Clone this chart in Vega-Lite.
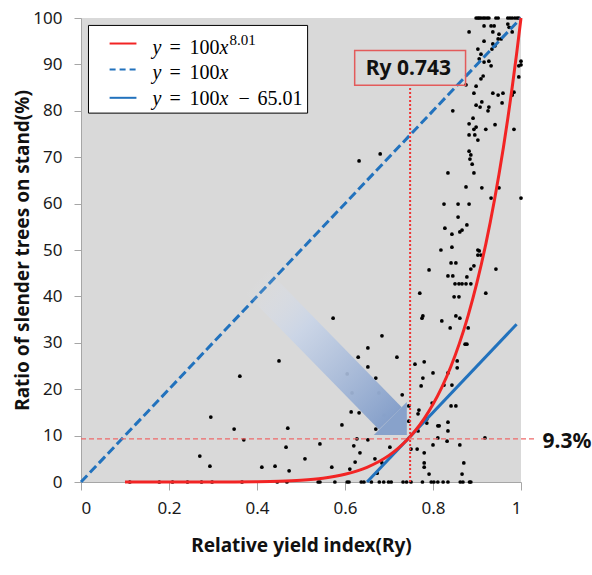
{
  "$schema": "https://vega.github.io/schema/vega-lite/v6.json",
  "width": 440,
  "height": 464,
  "autosize": {"type": "none"},
  "padding": {"left": 81, "top": 18, "right": 71, "bottom": 93},
  "background": "white",
  "config": {
    "view": {"fill": "#D9D9D9", "stroke": null},
    "font": "Noto Sans",
    "axis": {
      "domainColor": "#A6A6A6",
      "tickColor": "#A6A6A6",
      "grid": false,
      "labelFont": "Noto Sans",
      "labelFontSize": 17,
      "labelColor": "#1a1a1a",
      "titleFont": "Noto Sans",
      "titleFontSize": 19,
      "titleFontWeight": "bold",
      "titleColor": "#111111"
    }
  },
  "encoding": {
    "x": {
      "field": "x",
      "type": "quantitative",
      "scale": {"domain": [0, 1], "nice": false, "zero": false, "clamp": false},
      "axis": {
        "values": [0, 0.2, 0.4, 0.6, 0.8, 1],
        "format": ".1~f",
        "tickSize": 8,
        "labelPadding": 10,
        "title": "Relative yield index(Ry)",
        "titlePadding": 20
      }
    },
    "y": {
      "field": "y",
      "type": "quantitative",
      "scale": {"domain": [0, 100], "nice": false, "clamp": false},
      "axis": {
        "values": [0, 10, 20, 30, 40, 50, 60, 70, 80, 90, 100],
        "tickSize": 7,
        "labelPadding": 12,
        "title": "Ratio of slender trees on stand(%)",
        "titlePadding": 0
      }
    }
  },
  "layer": [
    {
      "data": {"values": [
        {"x":0.111,"y":0},{"x":0.178,"y":0},{"x":0.208,"y":0},{"x":0.242,"y":0},{"x":0.274,"y":0},{"x":0.298,"y":0},{"x":0.366,"y":0},{"x":0.446,"y":0},{"x":0.468,"y":0},{"x":0.539,"y":0},{"x":0.543,"y":0},{"x":0.577,"y":0},{"x":0.605,"y":0},{"x":0.609,"y":0},{"x":0.637,"y":0},{"x":0.643,"y":0},{"x":0.66,"y":0},{"x":0.678,"y":0},{"x":0.688,"y":0},{"x":0.699,"y":0},{"x":0.705,"y":0},{"x":0.732,"y":0},{"x":0.74,"y":0},{"x":0.75,"y":0},{"x":0.776,"y":0},{"x":0.796,"y":0},{"x":0.802,"y":0},{"x":0.811,"y":0},{"x":0.823,"y":0},{"x":0.834,"y":0},{"x":0.862,"y":0},{"x":0.868,"y":0},{"x":0.883,"y":0},{"x":0.886,"y":0},
        {"x":0.27,"y":5.6},{"x":0.293,"y":3.4},{"x":0.295,"y":14.0},{"x":0.348,"y":11.4},{"x":0.361,"y":22.8},{"x":0.37,"y":9.1},{"x":0.411,"y":3.2},{"x":0.441,"y":3.4},{"x":0.45,"y":26.1},{"x":0.466,"y":7.5},{"x":0.473,"y":2.4},{"x":0.47,"y":11.6},{"x":0.509,"y":5.0},{"x":0.543,"y":8.2},{"x":0.57,"y":3.2},{"x":0.573,"y":35.3},{"x":0.593,"y":12.3},{"x":0.605,"y":23.3},{"x":0.611,"y":2.8},{"x":0.616,"y":19.2},{"x":0.614,"y":15.1},{"x":0.62,"y":7.8},{"x":0.623,"y":4.3},{"x":0.627,"y":9.3},{"x":0.63,"y":26.9},{"x":0.632,"y":14.9},{"x":0.634,"y":6.3},{"x":0.652,"y":9.1},{"x":0.652,"y":28.9},{"x":0.652,"y":24.8},{"x":0.668,"y":5.0},{"x":0.67,"y":11.4},{"x":0.67,"y":22.4},{"x":0.673,"y":1.9},{"x":0.677,"y":19.2},{"x":0.684,"y":4.1},{"x":0.684,"y":31.5},{"x":0.689,"y":14.4},{"x":0.702,"y":7.5},{"x":0.711,"y":13.1},{"x":0.718,"y":26.9},{"x":0.73,"y":18.8},{"x":0.734,"y":12.5},{"x":0.745,"y":16.4},{"x":0.745,"y":13.1},{"x":0.75,"y":7.1},{"x":0.759,"y":25.4},{"x":0.764,"y":7.1},{"x":0.766,"y":14.7},{"x":0.766,"y":11.0},{"x":0.768,"y":15.5},{"x":0.773,"y":20.7},{"x":0.777,"y":22.4},{"x":0.78,"y":25.9},{"x":0.78,"y":6.3},{"x":0.78,"y":4.1},{"x":0.78,"y":3.2},{"x":0.786,"y":13.6},{"x":0.786,"y":12.7},{"x":0.791,"y":1.7},{"x":0.798,"y":17.0},{"x":0.8,"y":23.5},{"x":0.8,"y":8.0},{"x":0.811,"y":12.1},{"x":0.814,"y":12.1},{"x":0.811,"y":9.5},{"x":0.825,"y":20.9},{"x":0.832,"y":8.8},{"x":0.834,"y":23.5},{"x":0.834,"y":12.9},{"x":0.834,"y":11.0},{"x":0.841,"y":16.4},{"x":0.843,"y":20.9},{"x":0.852,"y":16.4},{"x":0.855,"y":26.1},{"x":0.855,"y":24.6},{"x":0.861,"y":8.0},{"x":0.866,"y":1.7},{"x":0.87,"y":4.1},{"x":0.873,"y":29.7},{"x":0.877,"y":29.7},{"x":0.918,"y":9.5},{"x":0.632,"y":69.2},{"x":0.68,"y":70.7},
        {"x":0.77,"y":40.7},{"x":0.775,"y":35.3},{"x":0.777,"y":35.8},{"x":0.791,"y":45.7},{"x":0.818,"y":50.0},{"x":0.82,"y":34.7},{"x":0.825,"y":59.9},{"x":0.827,"y":54.7},{"x":0.834,"y":44.4},{"x":0.834,"y":66.6},{"x":0.839,"y":33.2},{"x":0.841,"y":47.2},{"x":0.843,"y":53.4},{"x":0.843,"y":50.6},{"x":0.845,"y":44.4},{"x":0.845,"y":80.0},{"x":0.848,"y":39.9},{"x":0.85,"y":42.7},{"x":0.852,"y":47.2},{"x":0.852,"y":35.8},{"x":0.857,"y":59.9},{"x":0.857,"y":57.1},{"x":0.859,"y":42.7},{"x":0.859,"y":39.9},{"x":0.861,"y":35.3},{"x":0.861,"y":53.9},{"x":0.866,"y":54.3},{"x":0.866,"y":42.7},{"x":0.875,"y":63.6},{"x":0.875,"y":42.7},{"x":0.875,"y":85.6},{"x":0.877,"y":55.4},{"x":0.877,"y":44.2},{"x":0.88,"y":33.2},{"x":0.882,"y":59.9},{"x":0.882,"y":77.2},{"x":0.882,"y":74.8},{"x":0.882,"y":71.3},{"x":0.884,"y":69.6},{"x":0.886,"y":70.5},{"x":0.889,"y":68.5},{"x":0.886,"y":42.7},{"x":0.886,"y":45.9},{"x":0.891,"y":78.4},{"x":0.893,"y":66.6},{"x":0.893,"y":83.8},{"x":0.893,"y":46.6},{"x":0.893,"y":76.0},{"x":0.895,"y":74.8},{"x":0.898,"y":81.2},{"x":0.898,"y":76.5},{"x":0.898,"y":85.3},{"x":0.902,"y":73.7},{"x":0.902,"y":50.0},{"x":0.902,"y":48.9},{"x":0.902,"y":93.3},{"x":0.905,"y":49.8},{"x":0.905,"y":91.2},{"x":0.907,"y":80.8},{"x":0.909,"y":48.9},{"x":0.909,"y":92.2},{"x":0.909,"y":86.9},{"x":0.911,"y":81.9},{"x":0.911,"y":63.4},{"x":0.914,"y":87.5},{"x":0.916,"y":90.5},{"x":0.916,"y":95.0},{"x":0.916,"y":98.3},{"x":0.92,"y":40.7},{"x":0.92,"y":76.0},{"x":0.925,"y":80.0},{"x":0.927,"y":80.8},{"x":0.927,"y":90.7},{"x":0.932,"y":61.2},{"x":0.932,"y":89.7},{"x":0.932,"y":98.3},{"x":0.936,"y":83.8},{"x":0.936,"y":97.0},{"x":0.939,"y":98.3},{"x":0.936,"y":94.4},{"x":0.941,"y":77.0},{"x":0.943,"y":45.9},{"x":0.941,"y":94.0},{"x":0.948,"y":83.4},{"x":0.948,"y":95.5},{"x":0.95,"y":96.5},{"x":0.95,"y":63.4},{"x":0.955,"y":95.5},{"x":0.959,"y":83.8},{"x":0.957,"y":81.7},{"x":0.97,"y":98.7},{"x":0.973,"y":98.0},{"x":0.98,"y":97.0},{"x":0.98,"y":83.4},{"x":0.984,"y":84.0},{"x":0.984,"y":76.0},{"x":0.995,"y":89.7},{"x":0.995,"y":87.3},{"x":1.0,"y":61.2},{"x":1.0,"y":90.7},{"x":1.0,"y":89.9},{"x":0.882,"y":97.0},{"x":0.934,"y":93.3},
        {"x":0.898,"y":100},{"x":0.902,"y":100},{"x":0.905,"y":100},{"x":0.909,"y":100},{"x":0.914,"y":100},{"x":0.918,"y":100},{"x":0.923,"y":100},{"x":0.927,"y":100},{"x":0.943,"y":100},{"x":0.948,"y":100},{"x":0.97,"y":100},{"x":0.975,"y":100},{"x":0.98,"y":100},{"x":0.986,"y":100},{"x":0.991,"y":100},{"x":0.995,"y":100}
      ]},
      "mark": {"type": "circle", "size": 14, "color": "#000000", "opacity": 1}
    },
    {
      "data": {"values": [{"x":0,"y":0},{"x":1,"y":100}]},
      "mark": {"type": "line", "color": "#2272BD", "strokeWidth": 3, "strokeDash": [9, 4]}
    },
    {
      "data": {"values": [{"x":0.6501,"y":0},{"x":0.99,"y":33.99}]},
      "mark": {"type": "line", "color": "#2272BD", "strokeWidth": 3}
    },
    {
      "data": {"values": [
        {"x":0.1,"y":0},{"x":0.2,"y":0.0003},{"x":0.3,"y":0.0066},{"x":0.35,"y":0.0225},{"x":0.4,"y":0.0655},{"x":0.45,"y":0.167},{"x":0.5,"y":0.39},{"x":0.55,"y":0.83},{"x":0.6,"y":1.67},{"x":0.65,"y":3.17},{"x":0.7,"y":5.74},{"x":0.72,"y":7.2},{"x":0.743,"y":9.26},{"x":0.76,"y":11.1},{"x":0.78,"y":13.67},{"x":0.8,"y":16.74},{"x":0.82,"y":20.4},{"x":0.84,"y":24.74},{"x":0.86,"y":29.88},{"x":0.88,"y":35.92},{"x":0.9,"y":43.0},{"x":0.91,"y":46.98},{"x":0.92,"y":51.28},{"x":0.93,"y":55.92},{"x":0.94,"y":60.92},{"x":0.95,"y":66.31},{"x":0.96,"y":72.11},{"x":0.97,"y":78.35},{"x":0.98,"y":85.06},{"x":0.99,"y":92.26},{"x":1.0,"y":100}
      ]},
      "mark": {"type": "line", "color": "#F22424", "strokeWidth": 3, "interpolate": "monotone"}
    },
    {
      "data": {"values": [{"x":0,"x2":1.031,"y":9.3}]},
      "mark": {"type": "rule", "color": "#EE6A6A", "strokeWidth": 1.2, "strokeDash": [5, 3]},
      "encoding": {"x2": {"field": "x2"}}
    },
    {
      "data": {"values": [{"x":0.748,"y":0,"y2":85.5}]},
      "mark": {"type": "rule", "color": "#F03434", "strokeWidth": 2, "strokeDash": [2, 2]},
      "encoding": {"y2": {"field": "y2"}}
    },
    {
      "data": {"values": [{"x":0.398,"y":43.3},{"x":0.703,"y":13.7}]},
      "mark": {
        "type": "line",
        "strokeWidth": 32,
        "strokeCap": "butt",
        "stroke": {
          "gradient": "linear",
          "x1": 0, "y1": 0, "x2": 1, "y2": 1,
          "stops": [
            {"offset": 0, "color": "rgba(225,228,236,0)"},
            {"offset": 0.35, "color": "rgba(200,212,232,0.85)"},
            {"offset": 1, "color": "#86A0CA"}
          ]
        }
      }
    },
    {
      "data": {"values": [{"x":0.703,"y":13.7}]},
      "mark": {"type": "point", "shape": "M -1 1 L 1 1 L 1 -1 Z", "size": 1089, "filled": true, "fill": "#88A2CB", "opacity": 1, "strokeWidth": 0}
    },
    {
      "data": {"values": [{"x":0.622,"x2":0.874,"y":85.5,"y2":93.0}]},
      "mark": {"type": "rect", "fill": "transparent", "stroke": "#E35B5B", "strokeWidth": 1.5},
      "encoding": {"x2": {"field": "x2"}, "y2": {"field": "y2"}}
    },
    {
      "data": {"values": [{"x":0.744,"y":87.7,"t":"Ry 0.743"}]},
      "mark": {"type": "text", "font": "Noto Sans", "fontSize": 21, "fontWeight": "bold", "color": "#111111", "baseline": "alphabetic", "align": "center"},
      "encoding": {"text": {"field": "t"}}
    },
    {
      "data": {"values": [{"x":1.049,"y":7.3,"t":"9.3%"}]},
      "mark": {"type": "text", "font": "Noto Sans", "fontSize": 21, "fontWeight": "bold", "color": "#111111", "baseline": "alphabetic", "align": "left"},
      "encoding": {"text": {"field": "t"}}
    },
    {
      "data": {"values": [{"x":0.017,"x2":0.515,"y":79.5,"y2":98.4}]},
      "mark": {"type": "rect", "fill": "#FFFFFF", "stroke": "#000000", "strokeWidth": 1},
      "encoding": {"x2": {"field": "x2"}, "y2": {"field": "y2"}}
    },
    {
      "data": {"values": [{"x":0.065,"x2":0.126,"y":94.5}]},
      "mark": {"type": "rule", "color": "#F22424", "strokeWidth": 2},
      "encoding": {"x2": {"field": "x2"}}
    },
    {
      "data": {"values": [{"x":0.065,"x2":0.126,"y":88.9}]},
      "mark": {"type": "rule", "color": "#2272BD", "strokeWidth": 2, "strokeDash": [6, 4]},
      "encoding": {"x2": {"field": "x2"}}
    },
    {
      "data": {"values": [{"x":0.065,"x2":0.126,"y":82.8}]},
      "mark": {"type": "rule", "color": "#2272BD", "strokeWidth": 2},
      "encoding": {"x2": {"field": "x2"}}
    },
    {
      "data": {"values": [
        {"x":0.1625,"y":92.3,"t":"y"},{"x":0.315,"y":92.3,"t":"x"},
        {"x":0.1625,"y":86.9,"t":"y"},{"x":0.315,"y":86.9,"t":"x"},
        {"x":0.1625,"y":81.2,"t":"y"},{"x":0.315,"y":81.2,"t":"x"}
      ]},
      "mark": {"type": "text", "font": "Liberation Serif", "fontSize": 20, "fontStyle": "italic", "align": "left", "baseline": "alphabetic", "color": "#000000"},
      "encoding": {"text": {"field": "t"}}
    },
    {
      "data": {"values": [
        {"x":0.201,"y":92.3,"t":"="},{"x":0.2466,"y":92.3,"t":"100"},
        {"x":0.201,"y":86.9,"t":"="},{"x":0.2466,"y":86.9,"t":"100"},
        {"x":0.201,"y":81.2,"t":"="},{"x":0.2466,"y":81.2,"t":"100"},
        {"x":0.358,"y":81.2,"t":"−"},{"x":0.4011,"y":81.2,"t":"65.01"}
      ]},
      "mark": {"type": "text", "font": "Liberation Serif", "fontSize": 20, "align": "left", "baseline": "alphabetic", "color": "#000000"},
      "encoding": {"text": {"field": "t"}}
    },
    {
      "data": {"values": [{"x":0.3375,"y":94.2,"t":"8.01"}]},
      "mark": {"type": "text", "font": "Liberation Serif", "fontSize": 15, "align": "left", "baseline": "alphabetic", "color": "#000000"},
      "encoding": {"text": {"field": "t"}}
    }
  ]
}
